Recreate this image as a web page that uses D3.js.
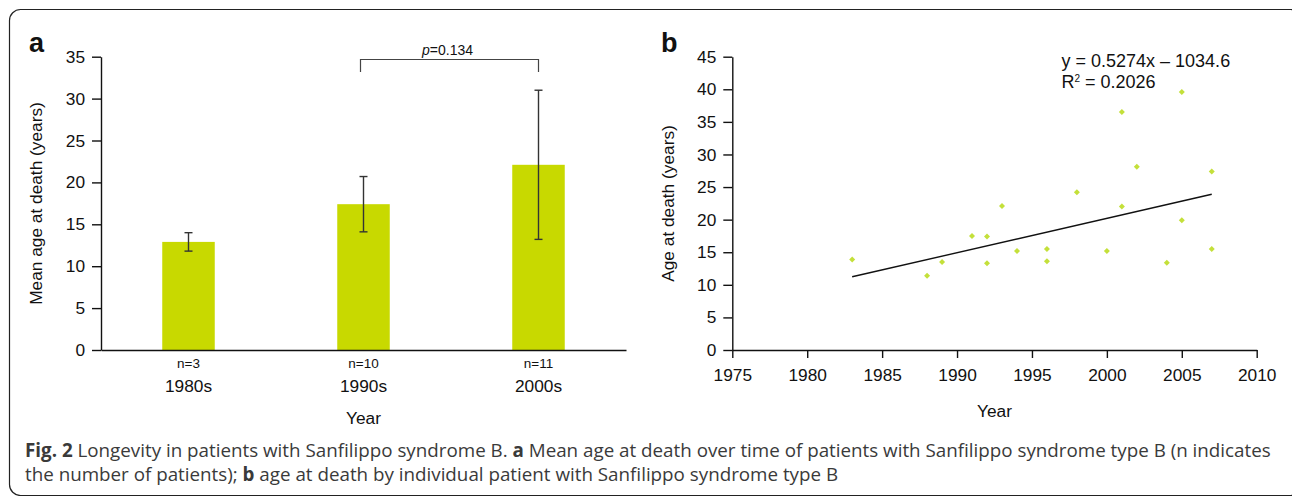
<!DOCTYPE html>
<html><head><meta charset="utf-8">
<script src="https://cdn.jsdelivr.net/npm/d3@7"></script>
<style>
html,body{margin:0;padding:0;background:#fff;}
svg{display:block;}
text{font-family:"Liberation Sans",Arial,Helvetica,sans-serif;fill:#111;}
.cap{font-family:"Open Sans","Noto Sans",sans-serif;fill:#3a3a3a;}
</style></head>
<body>
<svg id="fig" width="1292" height="496"></svg>
<script>
// ---- Panel a data ----
const decades = ["1980s", "1990s", "2000s"];
const nLabels = ["n=3", "n=10", "n=11"];
const meanAge = [12.9, 17.4, 22.1];
const sdAge = [1.1, 3.3, 8.9];
const yTicksA = [0, 5, 10, 15, 20, 25, 30, 35];
const pValue = "0.134";

// ---- Panel b data ----
const years = [1983, 1988, 1989, 1991, 1992, 1992, 1993, 1994, 1996, 1996, 1998, 2000, 2001, 2001, 2002, 2004, 2005, 2005, 2007, 2007];
const ages  = [13.9, 11.4, 13.5, 17.5, 17.4, 13.3, 22.1, 15.2, 15.5, 13.6, 24.2, 15.2, 22.0, 36.5, 28.1, 13.4, 39.6, 19.9, 27.4, 15.5];
const xTicksB = [1975, 1980, 1985, 1990, 1995, 2000, 2005, 2010];
const yTicksB = [0, 5, 10, 15, 20, 25, 30, 35, 40, 45];
const fitSlope = 0.5274, fitIntercept = -1034.6;
const fitRange = [1983, 2007];

const barColor = "#c8d900";
const dotColor = "#c4e03a";
const FS = "17.3px";

const svg = d3.select("#fig");

// frame
svg.append("rect").attr("x", 9.5).attr("y", 9.5).attr("width", 1292).attr("height", 486)
  .attr("rx", 11).attr("fill", "none").attr("stroke", "#222").attr("stroke-width", 1.2);

// ================= Panel a =================
const xA = d3.scaleBand().domain(decades).range([101, 626]).paddingInner(0.7).paddingOuter(0.35);
const yA = d3.scaleLinear().domain([0, 35]).range([350, 56.7]);

const gA = svg.append("g");
const axA = gA.append("g").attr("transform", "translate(101,0)")
  .call(d3.axisLeft(yA).tickValues(yTicksA).tickSize(9).tickSizeOuter(0).tickPadding(7));
axA.select(".domain").attr("stroke", "#111").attr("stroke-width", 1.4);
axA.selectAll(".tick line").attr("stroke", "#111").attr("stroke-width", 1.4);
axA.selectAll(".tick text").style("font-size", FS).attr("fill", "#111");

// bars
gA.selectAll("rect.bar").data(decades).enter().append("rect")
  .attr("x", d => xA(d)).attr("width", xA.bandwidth())
  .attr("y", (d, i) => yA(meanAge[i])).attr("height", (d, i) => yA(0) - yA(meanAge[i]))
  .attr("fill", barColor);

// x axis line
const axAx = gA.append("g").attr("transform", "translate(0,350)")
  .call(d3.axisBottom(xA).tickSize(0).tickSizeOuter(0).tickFormat(() => ""));
axAx.select(".domain").attr("stroke", "#111").attr("stroke-width", 1.4);

// error bars
decades.forEach((d, i) => {
  const cx = xA(d) + xA.bandwidth() / 2;
  const y1 = yA(meanAge[i] + sdAge[i]), y0 = yA(meanAge[i] - sdAge[i]);
  const g = gA.append("g").attr("stroke", "#333").attr("stroke-width", 1.4);
  g.append("line").attr("x1", cx).attr("x2", cx).attr("y1", y1).attr("y2", y0);
  g.append("line").attr("x1", cx - 4).attr("x2", cx + 4).attr("y1", y1).attr("y2", y1);
  g.append("line").attr("x1", cx - 4).attr("x2", cx + 4).attr("y1", y0).attr("y2", y0);
});

// category labels
decades.forEach((d, i) => {
  const cx = xA(d) + xA.bandwidth() / 2;
  gA.append("text").attr("x", cx).attr("y", 368).attr("text-anchor", "middle")
    .style("font-size", "13.5px").text(nLabels[i]);
  gA.append("text").attr("x", cx).attr("y", 391.5).attr("text-anchor", "middle")
    .style("font-size", FS).text(d);
});
gA.append("text").attr("x", 363.5).attr("y", 424).attr("text-anchor", "middle")
  .style("font-size", FS).text("Year");
gA.append("text").attr("transform", "translate(42,203.5) rotate(-90)").attr("text-anchor", "middle")
  .style("font-size", FS).text("Mean age at death (years)");
gA.append("text").attr("x", 29).attr("y", 52).style("font-size", "27px").style("font-weight", "bold").text("a");

// p-value bracket
{
  const x1 = xA(decades[1]) + xA.bandwidth() / 2 - 3, x2 = xA(decades[2]) + xA.bandwidth() / 2;
  gA.append("path").attr("d", `M${x1},72V59.5H${x2}V72`).attr("fill", "none")
    .attr("stroke", "#444").attr("stroke-width", 1.2);
  const t = gA.append("text").attr("x", (x1 + x2) / 2 - 2).attr("y", 55).attr("text-anchor", "middle")
    .style("font-size", "14px");
  t.append("tspan").style("font-style", "italic").text("p");
  t.append("tspan").text("=" + pValue);
}

// ================= Panel b =================
const xB = d3.scaleLinear().domain([1975, 2010]).range([732.3, 1256.7]);
const yB = d3.scaleLinear().domain([0, 45]).range([350, 56.7]);
const gB = svg.append("g");

const axBy = gB.append("g").attr("transform", "translate(732.3,0)")
  .call(d3.axisLeft(yB).tickValues(yTicksB).tickSize(9).tickSizeOuter(0).tickPadding(7));
const axBx = gB.append("g").attr("transform", "translate(0,350)")
  .call(d3.axisBottom(xB).tickValues(xTicksB).tickSize(8).tickSizeOuter(0).tickPadding(11).tickFormat(d3.format("d")));
[axBy, axBx].forEach(ax => {
  ax.select(".domain").attr("stroke", "#111").attr("stroke-width", 1.4);
  ax.selectAll(".tick line").attr("stroke", "#111").attr("stroke-width", 1.4);
  ax.selectAll(".tick text").style("font-size", FS).attr("fill", "#111");
});

// regression line
gB.append("line")
  .attr("x1", xB(fitRange[0])).attr("y1", yB(fitSlope * fitRange[0] + fitIntercept))
  .attr("x2", xB(fitRange[1])).attr("y2", yB(fitSlope * fitRange[1] + fitIntercept))
  .attr("stroke", "#111").attr("stroke-width", 1.4);

// points
gB.selectAll("path.pt").data(years).enter().append("path")
  .attr("d", d3.symbol(d3.symbolSquare, 18)())
  .attr("transform", (d, i) => `translate(${xB(d)},${yB(ages[i])}) rotate(45)`)
  .attr("fill", dotColor);

gB.append("text").attr("x", 1061.5).attr("y", 67).style("font-size", "18px")
  .text("y = 0.5274x \u2013 1034.6");
const r2 = gB.append("text").attr("x", 1061.5).attr("y", 88).style("font-size", "18px");
r2.append("tspan").text("R");
r2.append("tspan").attr("dy", -6.5).style("font-size", "10px").text("2");
r2.append("tspan").attr("dy", 6.5).text(" = 0.2026");

gB.append("text").attr("x", 994.5).attr("y", 417).attr("text-anchor", "middle")
  .style("font-size", FS).text("Year");
gB.append("text").attr("transform", "translate(674,203.5) rotate(-90)").attr("text-anchor", "middle")
  .style("font-size", FS).text("Age at death (years)");
gB.append("text").attr("x", 661).attr("y", 52).style("font-size", "27px").style("font-weight", "bold").text("b");

// ================= Caption =================
const c1 = svg.append("text").attr("class", "cap").attr("x", 25).attr("y", 457).style("font-size", "18.8px");
c1.append("tspan").style("font-weight", "bold").text("Fig. 2");
c1.append("tspan").text(" Longevity in patients with Sanfilippo syndrome B. ");
c1.append("tspan").style("font-weight", "bold").text("a");
c1.append("tspan").text(" Mean age at death over time of patients with Sanfilippo syndrome type B (n indicates");
const c2 = svg.append("text").attr("class", "cap").attr("x", 25).attr("y", 481).style("font-size", "18.8px");
c2.append("tspan").text("the number of patients); ");
c2.append("tspan").style("font-weight", "bold").text("b");
c2.append("tspan").text(" age at death by individual patient with Sanfilippo syndrome type B");
</script>
</body></html>
